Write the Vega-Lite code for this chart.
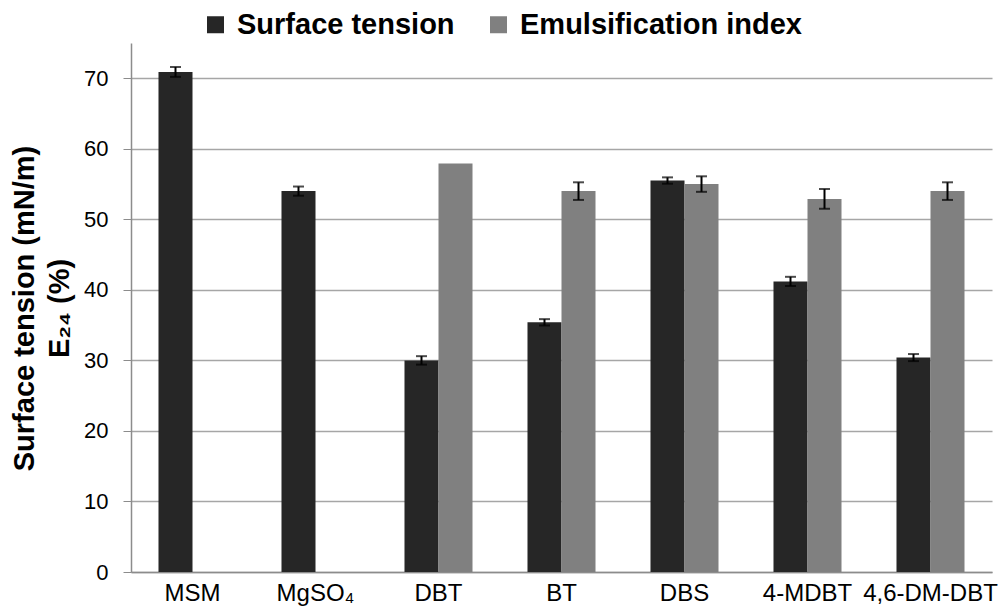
{
  "$schema": "https://vega.github.io/schema/vega-lite/v6.json",
  "width": 861,
  "height": 529,
  "autosize": {"type": "none"},
  "padding": {"left": 131, "top": 43, "right": 11, "bottom": 35},
  "background": "white",
  "config": {"view": {"stroke": null}, "font": "Liberation Sans"},
  "data": {
    "values": [
      {"sample": "MSM", "series": "Surface tension", "value": 70.9, "lo": 70.2, "hi": 71.6},
      {"sample": "MgSO₄", "series": "Surface tension", "value": 54.0, "lo": 53.35, "hi": 54.65},
      {"sample": "DBT", "series": "Surface tension", "value": 30.0, "lo": 29.4, "hi": 30.6},
      {"sample": "DBT", "series": "Emulsification index", "value": 57.9, "lo": null, "hi": null},
      {"sample": "BT", "series": "Surface tension", "value": 35.4, "lo": 34.95, "hi": 35.85},
      {"sample": "BT", "series": "Emulsification index", "value": 54.0, "lo": 52.75, "hi": 55.25},
      {"sample": "DBS", "series": "Surface tension", "value": 55.5, "lo": 55.05, "hi": 55.95},
      {"sample": "DBS", "series": "Emulsification index", "value": 55.0, "lo": 53.9, "hi": 56.1},
      {"sample": "4-MDBT", "series": "Surface tension", "value": 41.2, "lo": 40.55, "hi": 41.85},
      {"sample": "4-MDBT", "series": "Emulsification index", "value": 52.9, "lo": 51.5, "hi": 54.3},
      {"sample": "4,6-DM-DBT", "series": "Surface tension", "value": 30.4, "lo": 29.9, "hi": 30.9},
      {"sample": "4,6-DM-DBT", "series": "Emulsification index", "value": 54.0, "lo": 52.75, "hi": 55.25}
    ]
  },
  "encoding": {
    "x": {
      "field": "sample",
      "type": "nominal",
      "title": null,
      "scale": {
        "domain": ["MSM", "MgSO₄", "DBT", "BT", "DBS", "4-MDBT", "4,6-DM-DBT"],
        "paddingInner": 0.447,
        "paddingOuter": 0.2235
      },
      "axis": {
        "labelAngle": 0,
        "labelFontSize": 24,
        "labelColor": "black",
        "labelPadding": 9,
        "ticks": false,
        "domainColor": "#8c8c8c",
        "domainWidth": 1.5,
        "grid": false
      }
    },
    "xOffset": {
      "field": "series",
      "scale": {"domain": ["Surface tension", "Emulsification index"], "paddingInner": 0, "paddingOuter": 0}
    }
  },
  "layer": [
    {
      "mark": {"type": "bar"},
      "encoding": {
        "y": {
          "field": "value",
          "type": "quantitative",
          "scale": {"domain": [0, 75], "nice": false},
          "axis": {
            "values": [0, 10, 20, 30, 40, 50, 60, 70],
            "labelFontSize": 22,
            "labelColor": "black",
            "labelPadding": 15,
            "tickSize": 8,
            "tickColor": "#8c8c8c",
            "domainColor": "#8c8c8c",
            "domainWidth": 1.5,
            "gridColor": "#a6a6a6",
            "gridWidth": 1.5,
            "title": ["Surface tension (mN/m)", "E₂₄ (%)"],
            "titleFontSize": 29,
            "titleFontWeight": "bold",
            "titleColor": "black",
            "titleAngle": -90,
            "titleAlign": "center",
            "titleBaseline": "alphabetic",
            "titleLineHeight": 35,
            "titleX": -98,
            "titleY": 265
          }
        },
        "color": {
          "field": "series",
          "type": "nominal",
          "scale": {"domain": ["Surface tension", "Emulsification index"], "range": ["#262626", "#808080"]},
          "legend": {
            "title": null,
            "orient": "none",
            "legendX": 70,
            "legendY": -33,
            "direction": "horizontal",
            "padding": 0,
            "symbolType": "square",
            "symbolSize": 289,
            "symbolStrokeWidth": 0,
            "labelFontSize": 29,
            "labelFontWeight": "bold",
            "labelColor": "black",
            "labelOffset": 7,
            "labelLimit": 0,
            "columnPadding": 29
          }
        }
      }
    },
    {
      "transform": [{"filter": "datum.lo != null"}],
      "mark": {"type": "rule", "color": "black", "strokeWidth": 2},
      "encoding": {
        "y": {"field": "lo", "type": "quantitative"},
        "y2": {"field": "hi"}
      }
    },
    {
      "transform": [{"filter": "datum.lo != null"}],
      "mark": {"type": "tick", "color": "black", "thickness": 2, "size": 11},
      "encoding": {"y": {"field": "lo", "type": "quantitative"}}
    },
    {
      "transform": [{"filter": "datum.hi != null"}],
      "mark": {"type": "tick", "color": "black", "thickness": 2, "size": 11},
      "encoding": {"y": {"field": "hi", "type": "quantitative"}}
    }
  ]
}
